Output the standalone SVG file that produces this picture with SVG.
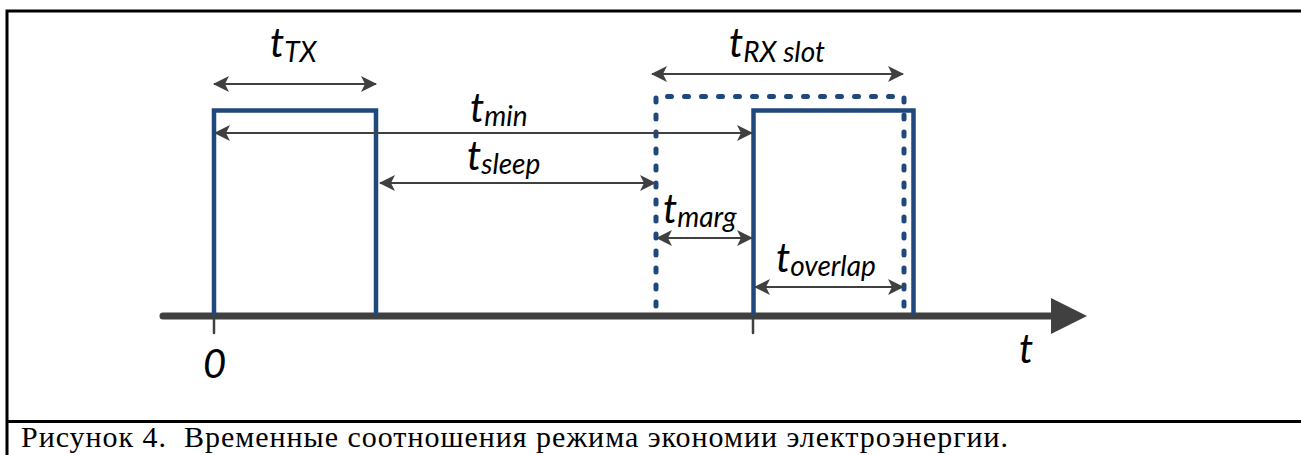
<svg xmlns="http://www.w3.org/2000/svg" width="1301" height="455" viewBox="0 0 1301 455">
<style>
.frame{stroke:#000;stroke-width:3;fill:none}
.pulse{stroke:#1f497d;stroke-width:4.5;fill:none;stroke-linejoin:miter}
.dash{stroke:#1f497d;stroke-width:5;fill:none;stroke-linecap:round;stroke-dasharray:4 13}
.dim{stroke:#404040;stroke-width:2;fill:none;marker-start:url(#ah);marker-end:url(#ah)}
.lbl{font-family:Lato,"Open Sans",sans-serif;font-style:italic;fill:#000}
.main{font-size:40px}
.sub{font-size:28px}
.cap{font-family:"Liberation Serif","Times New Roman",serif;font-size:30px;fill:#000}
</style>
<defs>
<marker id="ah" viewBox="0 0 16 16" refX="15" refY="8" markerWidth="16" markerHeight="16" markerUnits="userSpaceOnUse" orient="auto-start-reverse">
<path d="M0,0 L16,8 L0,16 L4,8 Z" fill="#404040"/>
</marker>
</defs>
<rect width="1301" height="455" fill="#fff"/>
<g id="frame">
<path class="frame" d="M7,455 V11 H1301"/>
<path class="frame" d="M7,421.5 H1301"/>
</g>
<g id="axis">
<line x1="163" y1="316" x2="1056" y2="316" stroke="#404040" stroke-width="7" stroke-linecap="round"/>
<path d="M1051,298 L1087,316 L1051,334 Z" fill="#404040"/>
<line x1="214" y1="316" x2="214" y2="333" stroke="#404040" stroke-width="2.5" stroke-linecap="round"/>
<line x1="753" y1="316" x2="753" y2="333" stroke="#404040" stroke-width="2.5" stroke-linecap="round"/>
<text class="lbl main" x="203" y="378">0</text>
<text class="lbl main" x="1019" y="363">t</text>
</g>
<g id="tx-pulse">
<path class="pulse" d="M214,316 V110.5 H376 V316"/>
</g>
<g id="rx-slot">
<path class="dash" d="M656,306 V96.5 H904 V306"/>
</g>
<g id="rx-pulse">
<path class="pulse" d="M753.5,316 V110.5 H913.5 V316"/>
</g>
<g id="connectors">
<line class="dim" x1="214" y1="84" x2="376" y2="84"/>
<line class="dim" x1="652" y1="74" x2="903" y2="74"/>
<line class="dim" x1="215" y1="133" x2="752" y2="133"/>
<line class="dim" x1="380" y1="183" x2="655" y2="183"/>
<line class="dim" x1="657" y1="238" x2="752" y2="238"/>
<line class="dim" x1="755" y1="287" x2="903" y2="287"/>
</g>
<g id="labels">
<text class="lbl" x="270" y="57"><tspan class="main">t</tspan><tspan class="sub" dy="5">TX</tspan></text>
<text class="lbl" x="729" y="57"><tspan class="main">t</tspan><tspan class="sub" dy="5">RX slot</tspan></text>
<text class="lbl" x="470" y="122"><tspan class="main">t</tspan><tspan class="sub" dy="4">min</tspan></text>
<text class="lbl" x="467" y="170"><tspan class="main">t</tspan><tspan class="sub" dy="4">sleep</tspan></text>
<text class="lbl" x="663" y="223"><tspan class="main">t</tspan><tspan class="sub" dy="4">marg</tspan></text>
<text class="lbl" x="776" y="272"><tspan class="main">t</tspan><tspan class="sub" dy="4">overlap</tspan></text>
</g>
<g id="caption">
<text class="cap" x="21" y="447" xml:space="preserve" textLength="987" lengthAdjust="spacing">Рисунок 4.  Временные соотношения режима экономии электроэнергии.</text>
</g>
</svg>
